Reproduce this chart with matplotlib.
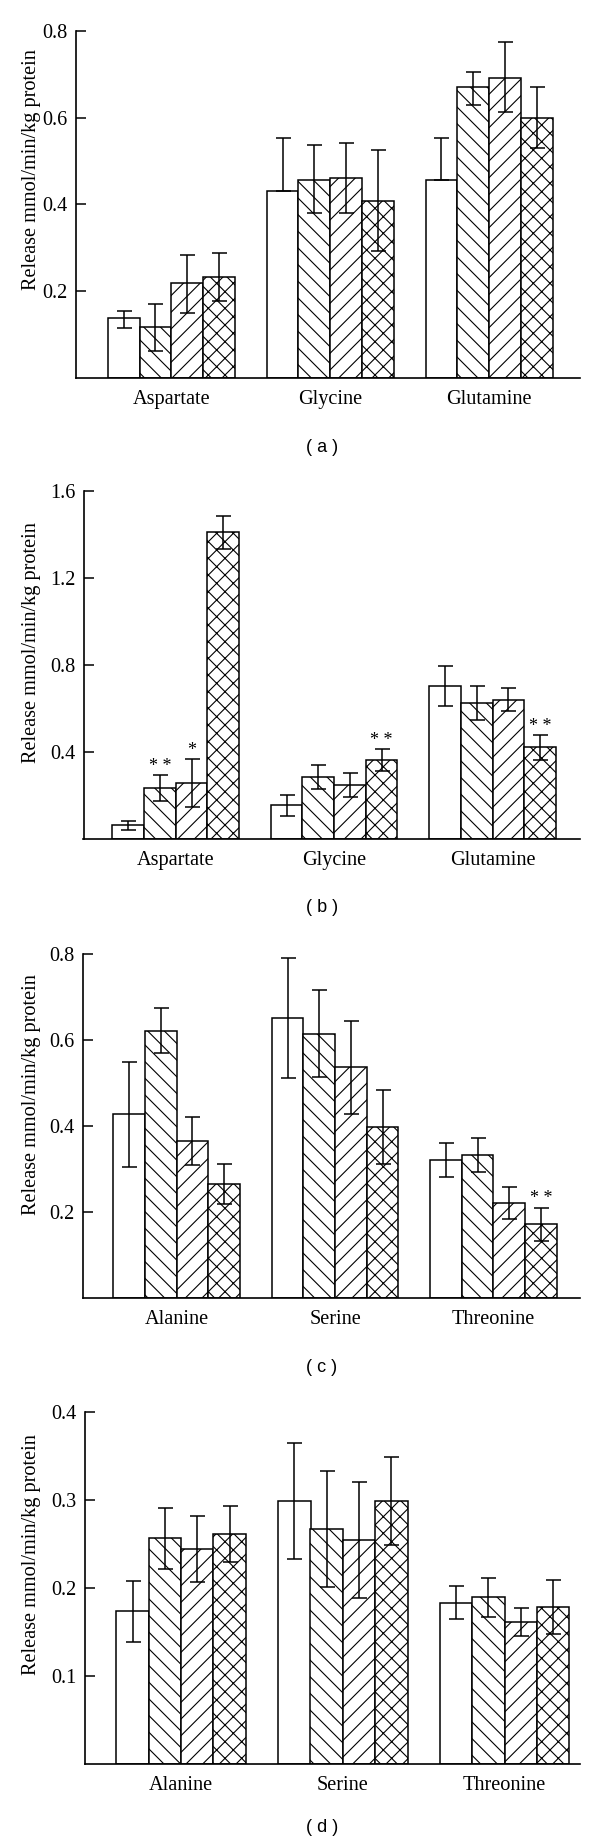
import numpy as np
import matplotlib
matplotlib.use("Agg")
import matplotlib.pyplot as plt

plt.rcParams["font.family"] = ["Liberation Serif", "DejaVu Serif"]
plt.rcParams["hatch.linewidth"] = 0.8

W, H = 600, 1848

# panel (a)
a_groups = ["Aspartate", "Glycine", "Glutamine"]
a_means = [[0.137, 0.430, 0.457],
           [0.116, 0.457, 0.670],
           [0.218, 0.461, 0.692],
           [0.232, 0.408, 0.599]]
a_err_hi = [[0.018, 0.123, 0.095],
            [0.054, 0.081, 0.036],
            [0.064, 0.081, 0.083],
            [0.055, 0.117, 0.072]]
a_err_lo = [[0.022, 0.0, 0.0],
            [0.054, 0.077, 0.041],
            [0.069, 0.081, 0.080],
            [0.056, 0.116, 0.069]]

# panel (b)
b_groups = ["Aspartate", "Glycine", "Glutamine"]
b_means = [[0.063, 0.155, 0.702],
           [0.236, 0.287, 0.625],
           [0.257, 0.247, 0.641],
           [1.411, 0.363, 0.421]]
b_err = [[0.021, 0.048, 0.092],
         [0.059, 0.055, 0.080],
         [0.110, 0.055, 0.054],
         [0.076, 0.050, 0.057]]
b_stars = [(1, 0, "* *"), (2, 0, "*"), (3, 1, "* *"), (3, 2, "* *")]

# panel (c)
c_groups = ["Alanine", "Serine", "Threonine"]
c_means = [[0.427, 0.652, 0.321],
           [0.622, 0.615, 0.332],
           [0.366, 0.537, 0.220],
           [0.265, 0.398, 0.171]]
c_err = [[0.123, 0.140, 0.040],
         [0.053, 0.102, 0.039],
         [0.056, 0.108, 0.037],
         [0.047, 0.087, 0.039]]
c_stars = [(3, 2, "* *")]

# panel (d)
d_groups = ["Alanine", "Serine", "Threonine"]
d_means = [[0.173, 0.299, 0.183],
           [0.256, 0.267, 0.189],
           [0.244, 0.254, 0.161],
           [0.261, 0.298, 0.178]]
d_err = [[0.035, 0.066, 0.019],
         [0.035, 0.066, 0.022],
         [0.037, 0.066, 0.016],
         [0.032, 0.050, 0.031]]

hatches = [None, "\\\\", "//", "xx"]
width = 0.2

fig = plt.figure(figsize=(W / 100, H / 100), dpi=100)


def panel(box, groups, means, err_lo, err_hi, ymax, yticks, xlim, stars,
          letter, letter_y, ylabel_y):
    left, right, top, bottom = box
    ax = fig.add_axes([left / W, 1 - bottom / H, (right - left) / W, (bottom - top) / H])
    x = np.arange(len(groups))
    for j in range(len(means)):
        ax.bar(x + (j - 1.5) * width, means[j], width,
               yerr=[err_lo[j], err_hi[j]],
               color="white", edgecolor="black", linewidth=1.1,
               hatch=hatches[j],
               error_kw=dict(ecolor="black", elinewidth=1.1, capsize=5.4, capthick=1.1))
    for j, g, s in stars:
        ax.annotate(s, (g + (j - 1.5) * width, means[j][g] + err_hi[j][g]),
                    xytext=(0, 3), textcoords="offset points",
                    ha="center", va="baseline", fontsize=13)
    ax.set_xlim(*xlim)
    ax.set_ylim(0, ymax)
    ax.set_yticks(yticks)
    ax.set_yticklabels([f"{t:g}" for t in yticks])
    ax.set_xticks(x)
    ax.set_xticklabels(groups)
    for sp in ["top", "right"]:
        ax.spines[sp].set_visible(False)
    for sp in ["left", "bottom"]:
        ax.spines[sp].set_linewidth(1.2)
    ax.tick_params(axis="y", direction="in", length=7, width=1.1, labelsize=14.6, pad=6)
    ax.tick_params(axis="x", length=0, labelsize=14.6, pad=9)
    fig.text(31.6 / W, 1 - ylabel_y / H, "Release mmol/min/kg protein",
             rotation=90, ha="center", va="center", fontsize=14.6)
    fig.text(322 / W, 1 - letter_y / H, letter, ha="center", va="center",
             fontsize=13, family=["Liberation Sans", "DejaVu Sans"])
    return ax


panel((76, 580, 31, 377.7), a_groups, a_means, a_err_lo, a_err_hi,
      0.8, [0.2, 0.4, 0.6, 0.8], (-0.6, 2.572), [], "( a )", 447, 170)
panel((83.5, 580, 491, 839), b_groups, b_means, b_err, b_err,
      1.6, [0.4, 0.8, 1.2, 1.6], (-0.582, 2.552), b_stars, "( b )", 907, 643)
panel((83.1, 580, 954.3, 1297.7), c_groups, c_means, c_err, c_err,
      0.8, [0.2, 0.4, 0.6, 0.8], (-0.59, 2.546), c_stars, "( c )", 1367, 1095)
panel((85, 580, 1411.7, 1763.7), d_groups, d_means, d_err, d_err,
      0.4, [0.1, 0.2, 0.3, 0.4], (-0.594, 2.466), [], "( d )", 1827, 1555)

fig.savefig("out.png", dpi=100)
